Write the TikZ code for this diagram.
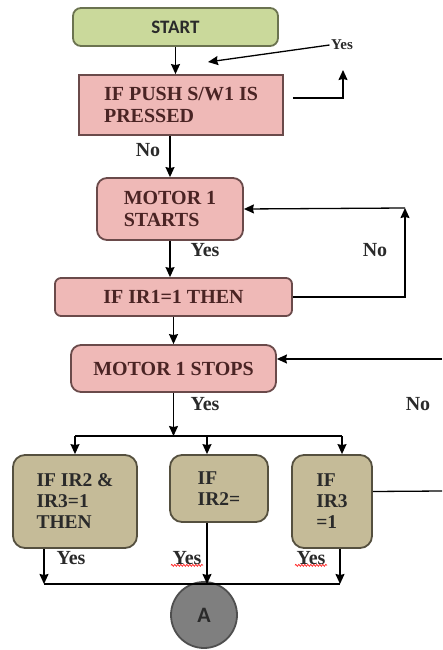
\documentclass[tikz,border=0pt]{standalone}
\usepackage{fontspec}
\setmainfont{Liberation Serif}
\newfontfamily\boxsans{Carlito}
\usetikzlibrary{arrows.meta,decorations.pathmorphing}

\begin{document}
\begin{tikzpicture}[
		x=1pt, y=-1pt,
		%Option for nice arrows
		>={Stealth[length=10pt,width=9pt,inset=1pt]}, %
		line width=1.3pt,
		startbox/.style={draw=startline, fill=startfill, text=darktext, line width=1.8pt,
			rounded corners=8pt, inner sep=0pt, font=\boxsans\bfseries\fontsize{19}{22}\selectfont},
		pinkbox/.style={draw=pinkline, fill=pinkfill, text=pinktext, line width=1.8pt,
			inner sep=0pt, align=left, font=\bfseries\fontsize{20}{22}\selectfont},
		tanbox/.style={draw=tanline, fill=tanfill, text=darktext, line width=1.8pt,
			rounded corners=12pt, inner sep=0pt, align=left, font=\bfseries\fontsize{19.5}{21}\selectfont},
		conn/.style={circle, draw=connline, fill=connfill, text=darktext, line width=1.8pt,
			inner sep=0pt, font=\boxsans\bfseries\fontsize{22}{24}\selectfont},
		lbl/.style={text=darktext, inner sep=1pt, font=\bfseries\fontsize{20}{22}\selectfont},
		smalllbl/.style={text=darktext, inner sep=1pt, font=\bfseries\fontsize{15}{17}\selectfont},
		squiggle/.style={draw=red, line width=0.6pt, decorate,
			decoration={snake, amplitude=1pt, segment length=3pt}},
	]
		% Colors
		\definecolor{startfill}{HTML}{CAD99B}
		\definecolor{startline}{HTML}{6B7350}
		\definecolor{pinkfill}{HTML}{EFB9B7}
		\definecolor{pinkline}{HTML}{6A4A4A}
		\definecolor{pinktext}{HTML}{4A2424}
		\definecolor{tanfill}{HTML}{C5BB98}
		\definecolor{tanline}{HTML}{55503F}
		\definecolor{connfill}{HTML}{7F7F7F}
		\definecolor{connline}{HTML}{4F4F4F}
		\definecolor{darktext}{HTML}{2A2A2A}

		\useasboundingbox (0,0) rectangle (442,650);

		% Boxes
		\node[startbox, minimum width=205, minimum height=38] (start) at (175.5,27) {START};
		\node[pinkbox, minimum width=204, minimum height=60] (push) at (181,105) {IF PUSH S/W1 IS\\PRESSED};
		\node[pinkbox, rounded corners=10pt, minimum width=146, minimum height=62] (mstart) at (170,209) {MOTOR 1\\STARTS};
		\node[pinkbox, rounded corners=6pt, minimum width=237, minimum height=38] (ir1) at (173.5,297) {IF IR1=1 THEN};
		\node[pinkbox, rounded corners=10pt, minimum width=205, minimum height=47] (mstop) at (173.5,368.5) {MOTOR 1 STOPS};
		\node[tanbox, minimum width=124, minimum height=93] (ir23) at (75,501.5) {IF IR2 \&\\IR3=1\\THEN};
		\node[tanbox, minimum width=98, minimum height=67] (ir2) at (219,488.5) {IF\\IR2=};
		\node[tanbox, minimum width=80, minimum height=93] (ir3) at (332,501.5) {IF\\IR3\\=1};
		\node[conn, minimum size=66] (conA) at (204,615) {A};

		% Labels
		\node[smalllbl] (yes1) at (342,45) {Yes};
		\node[lbl] (no1) at (148,150) {No};
		\node[lbl] (yes2) at (205,250) {Yes};
		\node[lbl] (no2) at (375,250) {No};
		\node[lbl] (yes3) at (205,404) {Yes};
		\node[lbl] (no3) at (418,404) {No};
		\node[lbl] (yes4) at (71,558) {Yes};
		\node[lbl] (yes5) at (187,558) {Yes};
		\node[lbl] (yes6) at (311,558) {Yes};
		\draw[squiggle] ([yshift=1pt]yes5.south west) -- ([yshift=1pt]yes5.south east);
		\draw[squiggle] ([yshift=1pt]yes6.south west) -- ([yshift=1pt]yes6.south east);

		% Free ends
		\coordinate (yestip) at (208,62);
		\coordinate (yesup) at (343,70);
		\coordinate (loopup) at (405,208);
		\coordinate (rightin) at (442,359);
		\coordinate (split) at (170,436);
		\coordinate (join) at (207,584);
		\coordinate (rightout) at (442,491);

		% Connectors
		\draw[->] (start.south) -- (start.south |- push.north);
		\draw[->] (yes1.west) -- (yestip);
		\draw[->] ([shift={(9,-7)}]push.east) -| (yesup);
		\draw[->] (mstart.north |- push.south) -- (mstart.north);
		\draw[->] (mstart.south) -- (mstart.south |- ir1.north);
		\draw[->] (ir1.east) -| (loopup);
		\draw[->] (loopup) -- (mstart.east);
		\draw[->] (ir1.south) -- (mstop.north);
		\draw[->] (rightin) -- (rightin -| mstop.east);
		\draw[->] (mstop.south) -- (mstop.south |- split);
		\draw (ir23.north |- split) -- ([xshift=10pt]ir3.north |- split);
		\draw[->] (ir23.north |- split) -- (ir23.north);
		\draw[->] ([xshift=-12pt]ir2.north |- split) -- ([xshift=-12pt]ir2.north);
		\draw[->] ([xshift=10pt]ir3.north |- split) -- ([xshift=10pt]ir3.north);
		\draw[->] ([xshift=-31pt]ir23.south) -- ([xshift=-31pt]ir23.south |- join);
		\draw[->] ([xshift=-12pt]ir2.south) -- (join);
		\draw[->] ([xshift=8pt]ir3.south) -- ([xshift=8pt]ir3.south |- join);
		\draw ([xshift=-31pt]ir23.south |- join) -- ([xshift=8pt]ir3.south |- join);
		\draw ([yshift=10pt]ir3.east) -- (rightout);
	\end{tikzpicture}
\end{document}
